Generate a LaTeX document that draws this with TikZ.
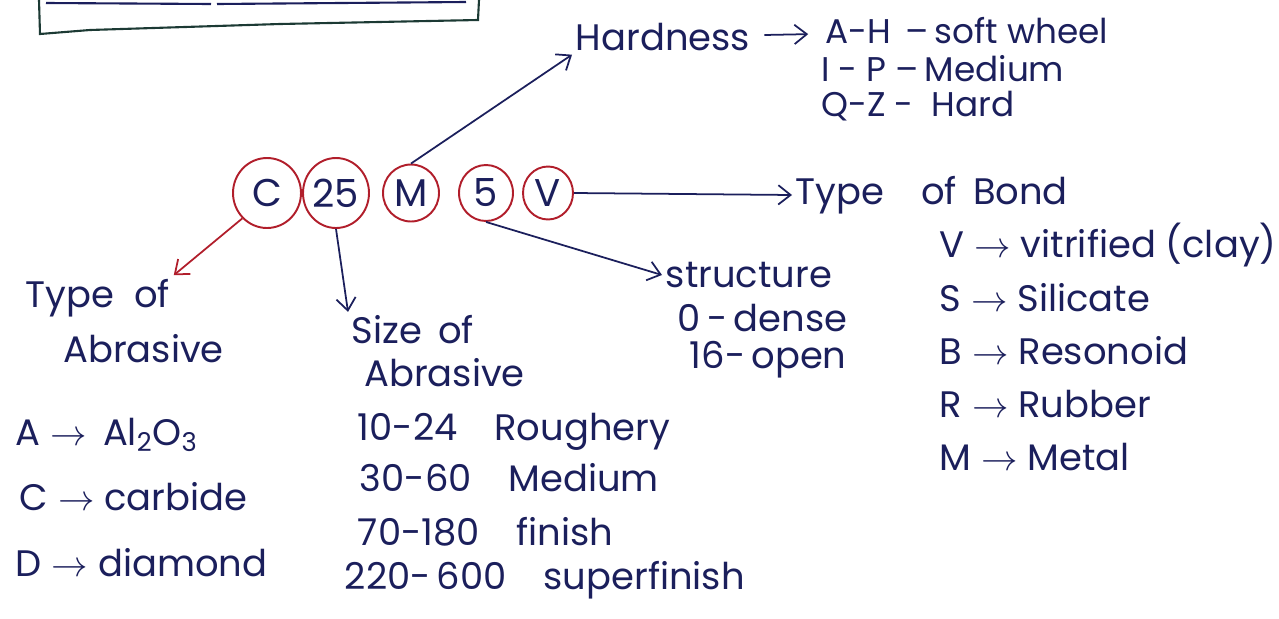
\documentclass[tikz,border=0pt]{standalone}
\usepackage{fontspec}
\setmainfont{Poppins}
\usetikzlibrary{shapes.geometric,arrows.meta,positioning}
\definecolor{ink}{HTML}{1B1F5C}
\definecolor{ringred}{HTML}{B11E2B}
\definecolor{boxline}{HTML}{1C3A34}

\begin{document}
\begin{tikzpicture}[
		x=0.02cm,y=-0.02cm,
		hand/.style={
			text=ink,
			font=\fontsize{21}{24}\selectfont,
			inner sep=2pt,
			anchor=west
		},
		tight/.style={
			hand,
			font=\fontsize{19.5}{22}\selectfont,
			inner sep=0.5pt
		},
		ring/.style={draw=ringred,ellipse,line width=1.1pt,inner sep=0pt,text=ink,
			font=\fontsize{22}{24}\selectfont
		},
		link/.style={
			draw=ink,
			line width=1pt,
			->
		},
		>={Straight Barb[length=7pt,width=11pt]}
		]
		\useasboundingbox (0,0) rectangle (1279,619);
		% box cut off at the top
		\draw[boxline,line width=1.2pt] (39,0) -- (40,34) -- (90,30) -- (280,24) -- (478,20) -- (479,0);
		\draw[ink,line width=1.2pt] (46,3) -- (211,4) (217,4) -- (466,2);
		% grading code
		\foreach \lab/\x/\w/\h [count=\i] in {C/267/1.36/1.40, 25/336/1.32/1.40, M/411/1.12/1.14, 5/486/1.08/1.12, V/548/1.00/1.06}
			\node[ring,minimum width=\w cm,minimum height=\h cm] (code-\i) at (\x,193) {\lab};
		% hardness
		\node[hand] (hard) at (572,37) {Hardness};
		\node[tight] (hard-1) at (824,31) {A-H\ \,–\,soft\ wheel};
		\node[tight] (hard-2) at (820,69) {I\ -\ P\ –\,Medium};
		\node[tight] (hard-3) at (820,106) {Q-Z\ -\ \ Hard};
		% bond
		\node[hand] (bond) at (792,195) {Type\quad of\, Bond};
		\foreach \txt [count=\i] in {V $\to$ vitrified (clay), S $\to$ Silicate, B $\to$ Resonoid, R $\to$ Rubber, M $\to$ Metal}
			\node[hand] (bond-\i) at (936,245+53*\i-53) {\txt};
		% structure
		\node[hand] (struct) at (662,275) {structure};
		\node[hand] (struct-1) at (674,318) {0\,-\,dense};
		\node[hand] (struct-2) at (686,360) {16-\,open};
		% type of abrasive
		\node[hand] (kind) at (22,298) {Type\ \ of};
		\node[hand,below right=0.2cm and 0.75cm of kind.south west,anchor=north west] (kind-0) {Abrasive};
		\foreach \x/\y/\txt [count=\i] in {12/435/A $\to$\, Al\textsubscript{2}O\textsubscript{3}, 16/497/C $\to$ carbide, 12/563/D $\to$ diamond}
			\node[hand] (kind-\i) at (\x,\y) {\txt};
		% size of abrasive
		\node[hand] (size) at (348,330) {Size\, of};
		\node[hand,below right=0.12cm and 0.25cm of size.south west,anchor=north west] (size-0) {Abrasive};
		\foreach \x/\y/\txt [count=\i] in {354/432/10-24\quad Roughery, 356/478/30-60\quad Medium, 354/532/70-180\quad finish, 341/580/220-\,600\quad superfinish}
			\node[hand] (size-\i) at (\x,\y) {\txt};
		% arrows from the code
		\draw[link,draw=ringred] (code-1.south west) -- (kind.north east);
		\draw[link] (code-2.south) -- (size.north west);
		\draw[link] (code-3.north) -- (hard.south west);
		\draw[link] (code-4.south) -- (struct.west);
		\draw[link] (code-5.east) -- (bond.west);
		\draw[link,shorten <=6pt,shorten >=9pt] (hard) -- (hard-1);
		\end{tikzpicture}
\end{document}
